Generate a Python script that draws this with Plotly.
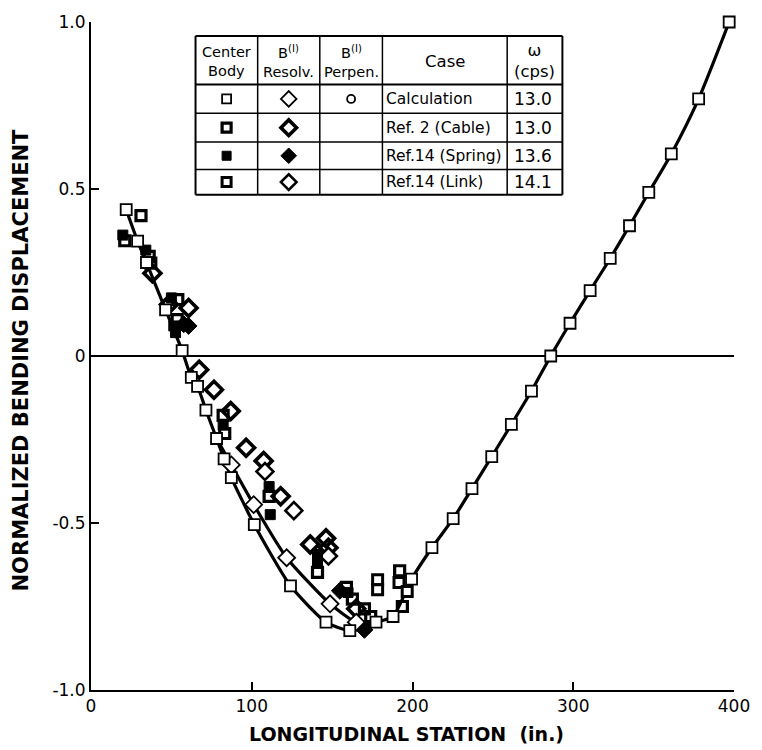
import plotly.graph_objects as go

# ---------------- data ----------------
# Calculation, center body (open squares, outer curve)
calc_body_x = [21.9, 29.0, 34.5, 46.4, 56.7, 62.4, 66.3, 71.5, 78.1, 82.8, 87.3, 101.6, 124.1,
               146.2, 161.0, 177.3, 187.9, 199.4, 212.1, 225.3, 237.0, 249.3, 261.5, 274.0,
               286.0, 298.0, 310.5, 323.0, 335.0, 347.0, 361.0, 378.0, 397.0]
calc_body_y = [0.438, 0.344, 0.280, 0.138, 0.016, -0.064, -0.091, -0.162, -0.247, -0.308, -0.364,
               -0.505, -0.688, -0.797, -0.822, -0.797, -0.780, -0.668, -0.574, -0.487, -0.397,
               -0.301, -0.205, -0.105, 0.0, 0.098, 0.196, 0.292, 0.390, 0.490, 0.605, 0.770, 1.0]

# Calculation, B(1) resolved (open diamonds, inner curve where it departs)
calc_resolv_x = [78.1, 87.3, 101.2, 121.7, 148.7, 165.0, 177.3]
calc_resolv_y = [-0.247, -0.326, -0.445, -0.604, -0.742, -0.797, -0.797]

# Experimental, center body
cable_sq_x = [31.1, 21.0, 36.2, 37.2, 54.0, 53.6, 82.2, 83.2, 110.8, 140.9, 158.9, 162.6, 170.1,
              174.0, 192.0, 193.7]
cable_sq_y = [0.420, 0.345, 0.298, 0.278, 0.169, 0.109, -0.178, -0.232, -0.420, -0.648, -0.693,
              -0.728, -0.757, -0.780, -0.643, -0.750]
spring_sq_x = [19.8, 34.1, 50.0, 51.5, 52.6, 82.2, 110.8, 111.5, 140.9, 140.9, 159.9]
spring_sq_y = [0.362, 0.317, 0.174, 0.090, 0.070, -0.207, -0.391, -0.475, -0.594, -0.614, -0.708]
link_sq_x = [178.3, 178.3, 191.6, 196.7]
link_sq_y = [-0.670, -0.700, -0.678, -0.705]

# Experimental, B(1) resolved
cable_di_x = [38.2, 48.5, 60.7, 67.3, 76.5, 86.9, 96.5, 107.4, 118.0, 136.4, 146.2, 147.7, 165.0]
cable_di_y = [0.248, 0.154, 0.144, -0.041, -0.101, -0.165, -0.275, -0.314, -0.420, -0.564, -0.546,
              -0.574, -0.757]
spring_di_x = [57.7, 60.7, 154.8, 170.1]
spring_di_y = [0.095, 0.090, -0.703, -0.820]
link_di_x = [108.2, 126.2, 147.7]
link_di_y = [-0.346, -0.463, -0.599]

# axis ticks
x_ticks = [0, 100, 200, 300, 400]
y_ticks = [-1.0, -0.5, 0.0, 0.5, 1.0]
y_ticktext = ["-1.0", "-0.5", "0", "0.5", "1.0"]

# legend table
table_header = ["Center<br>Body", "B<sup>(I)</sup><br>Resolv.", "B<sup>(I)</sup><br>Perpen.",
                "Case", "ω<br>(cps)"]
table_cases = ["Calculation", "Ref. 2 (Cable)", "Ref.14 (Spring)", "Ref.14 (Link)"]
table_omega = ["13.0", "13.0", "13.6", "14.1"]

# ---------------- layout helpers (pixel -> paper) ----------------
W, H = 762, 750
L, R, T, B = 91, 19, 17, 60
PW, PH = W - L - R, H - T - B


def px(x):
    return (x - L) / PW


def py(y):
    return (H - B - y) / PH


FONT = "DejaVu Sans"
fig = go.Figure()

line_style = dict(color="black", width=3.2, shape="spline", smoothing=0.6)
calc_sq_marker = dict(symbol="square", size=11, color="white", line=dict(color="black", width=1.8))
calc_di_marker = dict(symbol="diamond", size=13, color="white", line=dict(color="black", width=1.8))

# calculation curves
fig.add_trace(go.Scatter(x=calc_resolv_x, y=calc_resolv_y, mode="lines", line=line_style,
                         hoverinfo="skip", showlegend=False))
fig.add_trace(go.Scatter(x=calc_body_x, y=calc_body_y, mode="lines", line=line_style,
                         hoverinfo="skip", showlegend=False))

# experimental markers
half_sq = dict(symbol="square-open", size=10, color="black", line=dict(color="black", width=3.2))
full_sq = dict(symbol="square", size=10, color="black", line=dict(color="black", width=1))
link_sq = dict(symbol="square", size=10, color="white", line=dict(color="black", width=3.0))
half_di = dict(symbol="diamond-open", size=13, color="black", line=dict(color="black", width=3.6))
full_di = dict(symbol="diamond", size=13, color="black", line=dict(color="black", width=1))
link_di = dict(symbol="diamond", size=13, color="white", line=dict(color="black", width=2.6))

for xs, ys, mk in [(cable_di_x, cable_di_y, half_di), (spring_di_x, spring_di_y, full_di),
                   (link_di_x, link_di_y, link_di), (cable_sq_x, cable_sq_y, half_sq),
                   (spring_sq_x, spring_sq_y, full_sq), (link_sq_x, link_sq_y, link_sq)]:
    fig.add_trace(go.Scatter(x=xs, y=ys, mode="markers", marker=mk, cliponaxis=False,
                             showlegend=False))

# calculation markers on top
fig.add_trace(go.Scatter(x=calc_resolv_x[1:-1], y=calc_resolv_y[1:-1], mode="markers",
                         marker=calc_di_marker, cliponaxis=False, showlegend=False))
fig.add_trace(go.Scatter(x=calc_body_x, y=calc_body_y, mode="markers", marker=calc_sq_marker,
                         cliponaxis=False, showlegend=False))

# ---------------- legend table ----------------
col_edges = [197, 260, 323, 386.5, 513, 569]
row_edges = [31, 80, 109, 138, 165.5, 191]
shapes = []
for i, xe in enumerate(col_edges):
    w = 2 if i in (0, len(col_edges) - 1) else 1.5
    shapes.append(dict(type="line", xref="paper", yref="paper", x0=px(xe), x1=px(xe),
                       y0=py(row_edges[0]), y1=py(row_edges[-1]), line=dict(color="black", width=w)))
for i, ye in enumerate(row_edges):
    w = 2 if i in (0, 1, len(row_edges) - 1) else 1.5
    shapes.append(dict(type="line", xref="paper", yref="paper", x0=px(col_edges[0]),
                       x1=px(col_edges[-1]), y0=py(ye), y1=py(ye), line=dict(color="black", width=w)))

annotations = []
hdr_y = (row_edges[0] + row_edges[1]) / 2
for j, txt in enumerate(table_header):
    cx = (col_edges[j] + col_edges[j + 1]) / 2
    annotations.append(dict(xref="paper", yref="paper", x=px(cx), y=py(hdr_y + 1), text=txt,
                            showarrow=False, xanchor="center", yanchor="middle",
                            font=dict(family=FONT, size=14.5 if j < 3 else 16.5, color="black")))
for i, (case, om) in enumerate(zip(table_cases, table_omega)):
    cy = (row_edges[i + 1] + row_edges[i + 2]) / 2
    annotations.append(dict(xref="paper", yref="paper", x=px(col_edges[3] + 2), y=py(cy),
                            text=case, showarrow=False, xanchor="left", yanchor="middle",
                            font=dict(family=FONT, size=15.5, color="black")))
    annotations.append(dict(xref="paper", yref="paper", x=px(col_edges[4] + 5), y=py(cy),
                            text=om, showarrow=False, xanchor="left", yanchor="middle",
                            font=dict(family=FONT, size=17, color="black")))

# table icons on an overlay axis (paper-like 0..1)
row_c = [(row_edges[i] + row_edges[i + 1]) / 2 for i in range(1, 5)]
c0 = (col_edges[0] + col_edges[1]) / 2
c1 = (col_edges[1] + col_edges[2]) / 2
c2 = (col_edges[2] + col_edges[3]) / 2
icon_sq = [calc_sq_marker, half_sq, full_sq, link_sq]
icon_di = [calc_di_marker, half_di, full_di, link_di]
for k in range(4):
    sq = dict(icon_sq[k]); sq["size"] = 9
    di = dict(icon_di[k]); di["size"] = 12
    fig.add_trace(go.Scatter(x=[px(c0)], y=[py(row_c[k])], xaxis="x2", yaxis="y2",
                             mode="markers", marker=sq, showlegend=False, hoverinfo="skip"))
    fig.add_trace(go.Scatter(x=[px(c1)], y=[py(row_c[k])], xaxis="x2", yaxis="y2",
                             mode="markers", marker=di, showlegend=False, hoverinfo="skip"))
fig.add_trace(go.Scatter(x=[px(c2)], y=[py(row_c[0])], xaxis="x2", yaxis="y2", mode="markers",
                         marker=dict(symbol="circle-open", size=8, color="black",
                                     line=dict(color="black", width=1.8)),
                         showlegend=False, hoverinfo="skip"))

# axis titles
annotations.append(dict(xref="paper", yref="paper", x=px(411), y=py(734),
                        text="<b>LONGITUDINAL STATION  (in.)</b>", showarrow=False,
                        xanchor="center", yanchor="middle",
                        font=dict(family=FONT, size=19, color="black")))
annotations.append(dict(xref="paper", yref="paper", x=px(20), y=py(357),
                        text="<b>NORMALIZED BENDING DISPLACEMENT</b>", showarrow=False,
                        textangle=-90, xanchor="center", yanchor="middle",
                        font=dict(family=FONT, size=21, color="black")))

fig.update_layout(
    width=W, height=H,
    margin=dict(l=L, r=R, t=T, b=B),
    paper_bgcolor="white", plot_bgcolor="white",
    shapes=shapes, annotations=annotations,
    xaxis=dict(range=[0, 400], tickvals=x_ticks, ticks="inside", ticklen=8, tickwidth=1.5,
               tickcolor="black", showline=True, linecolor="black", linewidth=2,
               showgrid=False, zeroline=False,
               tickfont=dict(family=FONT, size=17, color="black")),
    yaxis=dict(range=[-1, 1], tickvals=y_ticks, ticktext=y_ticktext, ticks="inside",
               ticklen=8, tickwidth=1.5, tickcolor="black", showline=True, linecolor="black",
               linewidth=2, showgrid=False, zeroline=True, zerolinecolor="black",
               zerolinewidth=1.5, tickfont=dict(family=FONT, size=17, color="black")),
    xaxis2=dict(range=[0, 1], overlaying="x", anchor="y2", visible=False, fixedrange=True),
    yaxis2=dict(range=[0, 1], overlaying="y", anchor="x2", visible=False, fixedrange=True),
)

fig.write_html("out.html")
